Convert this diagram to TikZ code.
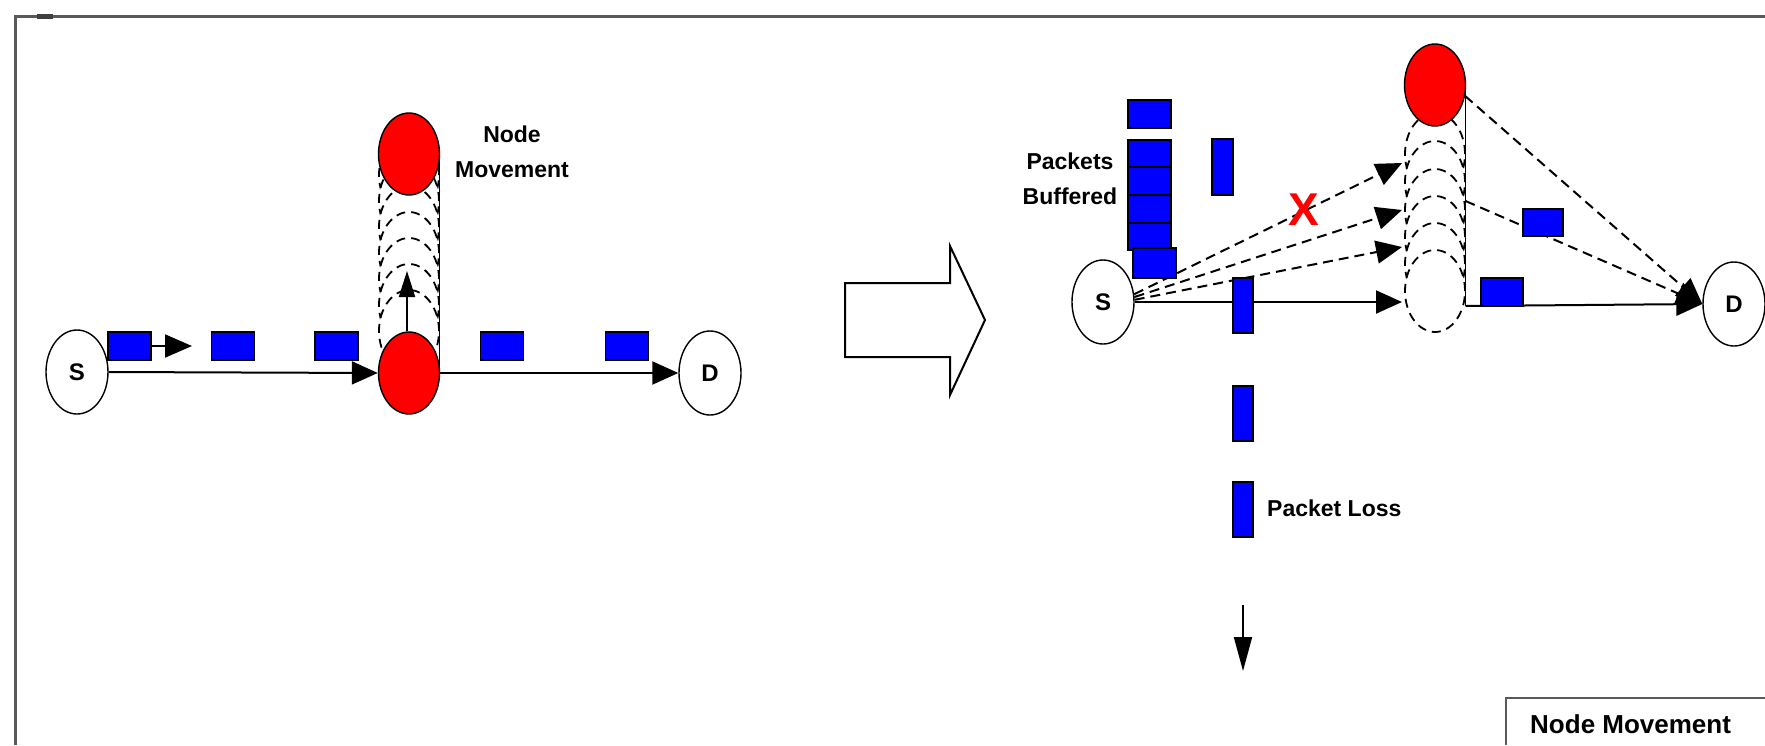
\documentclass[tikz,border=0pt]{standalone}
\usepackage{fontspec}
\setmainfont{Liberation Sans}
\usetikzlibrary{shapes.geometric,arrows.meta,calc}
\definecolor{pktblue}{RGB}{0,0,255}
\definecolor{framegray}{RGB}{90,90,90}
\begin{document}
\begin{tikzpicture}[x=1pt,y=-1pt,
  term/.style={ellipse, draw=black, line width=1.4pt, fill=white, minimum width=62pt, minimum height=84pt, inner sep=0pt, font=\fontsize{24}{24}\selectfont\bfseries},
  mover/.style={ellipse, draw=black, line width=1.4pt, fill=red, minimum width=61pt, minimum height=82pt, inner sep=0pt},
  ghost/.style={ellipse, draw=black, line width=1.8pt, dash pattern=on 9pt off 6pt, fill=white, minimum width=60pt, minimum height=82pt, inner sep=0pt},
  pkt/.style={rectangle, draw=black, line width=1.6pt, fill=pktblue, inner sep=0pt},
  link/.style={line width=2pt, draw=black},
  tip/.style={-{Triangle[length=26pt,width=23pt]}},
  dlink/.style={link, dash pattern=on 10pt off 6pt},
  lbl/.style={font=\fontsize{23}{35}\selectfont\bfseries, align=center, inner sep=0pt}
]
\useasboundingbox (0,0) rectangle (1765,745);
\fill[white] (0,0) rectangle (1765,745);
% frame
\draw[line width=3pt, draw=framegray] (15,745) -- (15,16) -- (1765,16);
\fill[black!75] (37,14) rectangle (53,19);

% ---------- left panel ----------
\node[term] (S1) at (77,372) {S};
\node[term] (D1) at (710,373) {D};
\foreach \k in {0,...,6} {
  \node[ghost] (g\k) at (409,{175+26*\k}) {};
}
\draw[line width=1.6pt] (439.5,154) -- (439.5,373);
\node[mover] (M1top) at (409,154) {};
\node[mover] (M1) at (409,373) {};
\draw[link,tip] (S1.east) -- (M1.west);
\draw[link,tip] (M1.east) -- (D1.west);
\coordinate (up1) at (407,271);
\draw[link,-{Triangle[length=26pt,width=16pt]}] (M1.north -| up1) -- (up1);
\node[pkt, minimum width=43pt, minimum height=28pt] (p1) at (129.5,346) {};
\node[pkt, minimum width=43pt, minimum height=28pt] (p2) at (233,346) {};
\node[pkt, minimum width=43pt, minimum height=28pt] (p3) at (336.5,346) {};
\node[pkt, minimum width=43pt, minimum height=28pt] (p4) at (502,346) {};
\node[pkt, minimum width=43pt, minimum height=28pt] (p5) at (627,346) {};
\coordinate (pa) at (192,346);
\draw[link,-{Triangle[length=27pt,width=23pt]}] (p1.east) -- (pa);
\node[lbl] (nm1) at (512,152) {Node\\Movement};

% ---------- transition arrow ----------
\draw[line width=2pt, line join=miter] (845,283) -- (950,283) -- (950,246) -- (985,320) -- (950,395) -- (950,357) -- (845,357) -- cycle;

% ---------- right panel ----------
\node[term] (S2) at (1103,302) {S};
\node[term] (D2) at (1734,304) {D};
\foreach \k/\yy in {1/154,2/182,3/210,4/237,5/264,6/291} {
  \node[ghost] (h\k) at (1435,\yy) {};
}
\draw[line width=1.6pt] (1465.5,85) -- (1465.5,306);
\node[mover] (M2) at (1435,85) {};

\coordinate (t1) at (1402,163);
\coordinate (t2) at (1402,210);
\coordinate (t3) at (1402,247);
\coordinate (t4) at (1402,302);
\draw[dlink,tip] (S2.14) -- (t1);
\draw[dlink,tip] (S2.9) -- (t2);
\draw[dlink,tip] (S2.4) -- (t3);
\draw[link,tip] (S2.east) -- (t4);

\coordinate (c2) at (1465.5,201);
\coordinate (c3) at (1465.5,306);
\draw[dlink,tip] (M2.-20) -- (D2.west);
\draw[dlink,tip] (c2) -- (D2.west);
\draw[link,tip] (c3) -- (D2.west);

% buffered packets
\node[pkt, minimum width=43pt, minimum height=28pt] (q1) at (1149.5,114) {};
\node[pkt, minimum width=43pt, minimum height=27.5pt] (q2) at (1149.5,153.5) {};
\node[pkt, minimum width=43pt, minimum height=27.5pt] (q3) at (1149.5,181) {};
\node[pkt, minimum width=43pt, minimum height=27.5pt] (q4) at (1149.5,209) {};
\node[pkt, minimum width=43pt, minimum height=27.5pt] (q5) at (1149.5,236.5) {};
\node[pkt, minimum width=43pt, minimum height=30pt] (q6) at (1154.5,263) {};
\node[pkt, minimum width=21pt, minimum height=56pt] (q7) at (1222.5,167) {};
% lost packets
\node[pkt, minimum width=20pt, minimum height=55pt] (q8) at (1243,305.5) {};
\node[pkt, minimum width=20pt, minimum height=55pt] (q9) at (1243,413.5) {};
\node[pkt, minimum width=20pt, minimum height=55pt] (q10) at (1243,509.5) {};
% packets towards D
\node[pkt, minimum width=40pt, minimum height=27pt] (q11) at (1543,222.5) {};
\node[pkt, minimum width=42pt, minimum height=28pt] (q12) at (1502,292) {};

\node[text=red, font=\fontsize{46}{46}\selectfont\bfseries, inner sep=0pt] (xm) at (1304,210) {X};
\node[lbl] (pb) at (1070,179) {Packets\\Buffered};
\node[lbl, anchor=west] (pl) at (1267,508) {Packet Loss};

\coordinate (da1) at (1243,605);
\coordinate (da2) at (1243,671);
\draw[link,-{Triangle[length=34pt,width=18pt]}] (da1) -- (da2);

% legend
\draw[line width=2.5pt, draw=framegray] (1506,745) -- (1506,698) -- (1765,698);
\node[font=\fontsize{26}{26}\selectfont\bfseries, anchor=west, inner sep=0pt] (leg) at (1530,724) {Node Movement};
\end{tikzpicture}
\end{document}
